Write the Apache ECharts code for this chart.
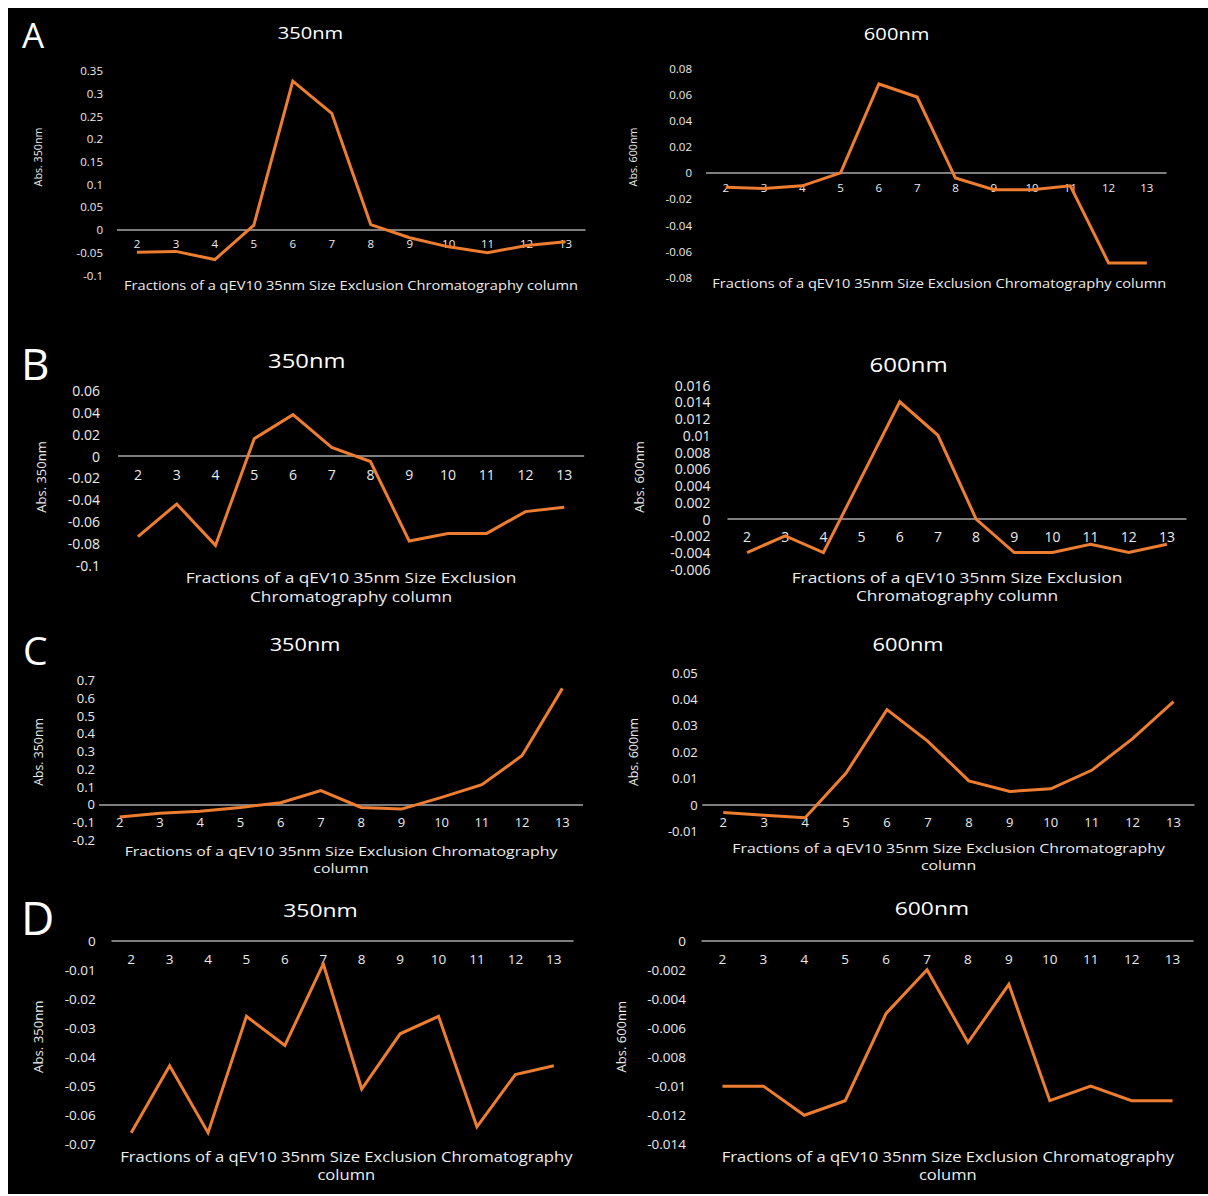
<!DOCTYPE html>
<html>
<head>
<meta charset="utf-8">
<title>qEV10 35nm SEC fractions - absorbance</title>
<style>
  html, body { margin: 0; padding: 0; background: #ffffff; }
  #frame { position: absolute; left: 8px; top: 8px; width: 1200px; height: 1186px; background: #000000; }
  #chart { position: absolute; left: 0; top: 0; width: 1208px; height: 1196px; }
</style>
<script src="https://cdn.jsdelivr.net/npm/echarts@6/dist/echarts.min.js"></script>
</head>
<body>
<div id="frame"></div>
<div id="chart"></div>
<script>
// Fraction numbers collected from the column
const fractions = ['2', '3', '4', '5', '6', '7', '8', '9', '10', '11', '12', '13'];

// Absorbance readings per fraction (A-D: four sample runs; 350nm and 600nm)
const absA350 = [-0.05, -0.048, -0.066, 0.01, 0.327, 0.256, 0.011, -0.018, -0.038, -0.051, -0.035, -0.027];
const absA600 = [-0.011, -0.012, -0.01, 0, 0.068, 0.058, -0.004, -0.013, -0.013, -0.01, -0.069, -0.069];
const absB350 = [-0.074, -0.044, -0.082, 0.016, 0.038, 0.008, -0.005, -0.078, -0.071, -0.071, -0.051, -0.047];
const absB600 = [-0.004, -0.002, -0.004, 0.005, 0.014, 0.01, 0, -0.004, -0.004, -0.003, -0.004, -0.003];
const absC350 = [-0.07, -0.049, -0.038, -0.017, 0.01, 0.078, -0.017, -0.026, 0.04, 0.111, 0.275, 0.653];
const absC600 = [-0.003, -0.004, -0.005, 0.012, 0.036, 0.024, 0.009, 0.005, 0.006, 0.013, 0.025, 0.039];
const absD350 = [-0.066, -0.043, -0.066, -0.026, -0.036, -0.008, -0.051, -0.032, -0.026, -0.064, -0.046, -0.043];
const absD600 = [-0.01, -0.01, -0.012, -0.011, -0.005, -0.002, -0.007, -0.003, -0.011, -0.01, -0.011, -0.011];

// Value-axis tick range per chart: [min, max, step]
const ticksA350 = [-0.1, 0.35, 0.05];
const ticksA600 = [-0.08, 0.08, 0.02];
const ticksB350 = [-0.1, 0.06, 0.02];
const ticksB600 = [-0.006, 0.016, 0.002];
const ticksC350 = [-0.2, 0.7, 0.1];
const ticksC600 = [-0.01, 0.05, 0.01];
const ticksD350 = [-0.07, 0, 0.01];
const ticksD600 = [-0.014, 0, 0.002];

const panelLetters = ['A', 'B', 'C', 'D'];
const chartTitles = ['350nm', '600nm'];
const yAxisTitles = ['Abs. 350nm', 'Abs. 600nm'];
const xAxisTitle = 'Fractions of a qEV10 35nm Size Exclusion Chromatography column';
const xAxisTitleWrapped = ['Fractions of a qEV10 35nm Size Exclusion', 'Chromatography column'];
const xAxisTitleWrappedLate = ['Fractions of a qEV10 35nm Size Exclusion Chromatography', 'column'];

const ORANGE = '#ED7D31';
const TEXT = '#ececec';
const FONT = '"Open Sans", "Noto Sans", sans-serif';
const STRETCH = 1.22;

// Layout of the eight charts (pixel boxes and text placements)
const layout = [
  { data: absA350, ticks: ticksA350, grid: [117.5, 70.7, 467.5, 204.3], yMargin: 14.5, xMargin: 8.3, tick: 11.5,
    title: [chartTitles[0], 310.4, 32, 16.5], yName: [yAxisTitles[0], 38, 157, 10.7],
    xName: [[xAxisTitle], 351, [286], 12] },
  { data: absA600, ticks: ticksA600, grid: [706.6, 68.3, 459.4, 209], yMargin: 14.6, xMargin: 8.3, tick: 11.5,
    title: [chartTitles[1], 896.6, 33, 16.5], yName: [yAxisTitles[1], 633, 157, 10.7],
    xName: [[xAxisTitle], 939.3, [284], 12] },
  { data: absB350, ticks: ticksB350, grid: [118.6, 390.7, 465, 174.3], yMargin: 18.6, xMargin: 11, tick: 14,
    title: [chartTitles[0], 306.8, 360, 19.5], yName: [yAxisTitles[0], 41, 477, 13],
    xName: [xAxisTitleWrapped, 351, [578, 597], 14.2] },
  { data: absB600, ticks: ticksB600, grid: [728, 385, 458, 184.3], yMargin: 17.5, xMargin: 10.7, tick: 14,
    title: [chartTitles[1], 908.6, 364, 19.7], yName: [yAxisTitles[1], 639, 477, 13],
    xName: [xAxisTitleWrapped, 957, [578, 596], 14.2] },
  { data: absC350, ticks: ticksC350, grid: [99.5, 680, 483, 160], yMargin: 4.5, xMargin: 10.8, tick: 13,
    title: [chartTitles[0], 305, 644, 17.8], yName: [yAxisTitles[0], 38, 752, 12.3],
    xName: [xAxisTitleWrappedLate, 341, [850.7, 867.7], 13] },
  { data: absC600, ticks: ticksC600, grid: [702.8, 672.7, 491.2, 158.3], yMargin: 5, xMargin: 10.9, tick: 13,
    title: [chartTitles[1], 908, 644, 17.9], yName: [yAxisTitles[1], 633, 752, 12.4],
    xName: [xAxisTitleWrappedLate, 948.6, [847.7, 865], 13] },
  { data: absD350, ticks: ticksD350, grid: [112, 940.7, 461, 203.6], yMargin: 16.3, xMargin: 10.8, tick: 13.5,
    title: [chartTitles[0], 320.5, 910, 18.8], yName: [yAxisTitles[0], 38, 1036.7, 13.2],
    xName: [xAxisTitleWrappedLate, 346.3, [1156.7, 1175], 13.6] },
  { data: absD600, ticks: ticksD600, grid: [702, 940.7, 491, 203.6], yMargin: 16, xMargin: 10.8, tick: 13.5,
    title: [chartTitles[1], 931.9, 908.3, 18.7], yName: [yAxisTitles[1], 621.3, 1036.7, 13],
    xName: [xAxisTitleWrappedLate, 947.8, [1156.7, 1175], 13.6] }
];

// Panel letters: [x, centre y, font size]
const letterPos = [[22, 34.5, 35], [21, 362.5, 44], [23, 649, 39], [21, 916.5, 46]];

const fmt = v => String(+Number(v).toFixed(6));

const grids = [], xAxes = [], yAxes = [], series = [], graphics = [];

layout.forEach((p, i) => {
  const [gl, gt, gw, gh] = p.grid;
  const [lo, hi] = p.ticks;
  // the category axis (line + labels) sits on the value-axis zero
  const zeroLift = gh * (0 - lo) / (hi - lo);

  grids.push({ left: gl, top: gt, width: gw, height: gh, containLabel: false });
  xAxes.push({
    type: 'category', gridIndex: i, data: fractions, boundaryGap: true,
    position: 'bottom', offset: -zeroLift,
    axisLine: { show: true, onZero: false, lineStyle: { color: '#a8a8a8', width: 1.5 } },
    axisTick: { show: false },
    axisLabel: { interval: 0, color: TEXT, fontFamily: FONT, fontSize: p.tick, margin: p.xMargin },
    splitLine: { show: false }
  });
  yAxes.push({
    type: 'value', gridIndex: i, min: lo, max: hi, interval: p.ticks[2],
    axisLine: { show: false }, axisTick: { show: false }, splitLine: { show: false },
    axisLabel: { color: TEXT, fontFamily: FONT, fontSize: p.tick, margin: p.yMargin, formatter: fmt }
  });
  series.push({
    type: 'line', xAxisIndex: i, yAxisIndex: i, data: p.data,
    symbol: 'none', smooth: false, z: 5,
    lineStyle: { color: ORANGE, width: 3, join: 'miter' }
  });

  // chart title
  graphics.push({
    type: 'text', x: p.title[1], y: p.title[2], scaleX: STRETCH,
    style: { text: p.title[0], fill: '#ffffff', font: `${p.title[3]}px ${FONT}`, align: 'center', verticalAlign: 'middle' }
  });
  // value-axis title (rotated)
  graphics.push({
    type: 'text', x: p.yName[1], y: p.yName[2], rotation: Math.PI / 2,
    style: { text: p.yName[0], fill: TEXT, font: `${p.yName[3]}px ${FONT}`, align: 'center', verticalAlign: 'middle' }
  });
  // category-axis title, one element per line
  p.xName[0].forEach((line, k) => {
    graphics.push({
      type: 'text', x: p.xName[1], y: p.xName[2][k], scaleX: STRETCH,
      style: { text: line, fill: TEXT, font: `${p.xName[3]}px ${FONT}`, align: 'center', verticalAlign: 'middle' }
    });
  });
});

panelLetters.forEach((letter, i) => {
  const [x, y, size] = letterPos[i];
  graphics.push({
    type: 'text', x: x, y: y,
    style: { text: letter, fill: '#ffffff', font: `${size}px ${FONT}`, align: 'left', verticalAlign: 'middle' }
  });
});

const chart = echarts.init(document.getElementById('chart'), null, { renderer: 'svg' });
chart.setOption({
  backgroundColor: 'transparent',
  animation: false,
  grid: grids,
  xAxis: xAxes,
  yAxis: yAxes,
  series: series,
  graphic: graphics
});
</script>
</body>
</html>
